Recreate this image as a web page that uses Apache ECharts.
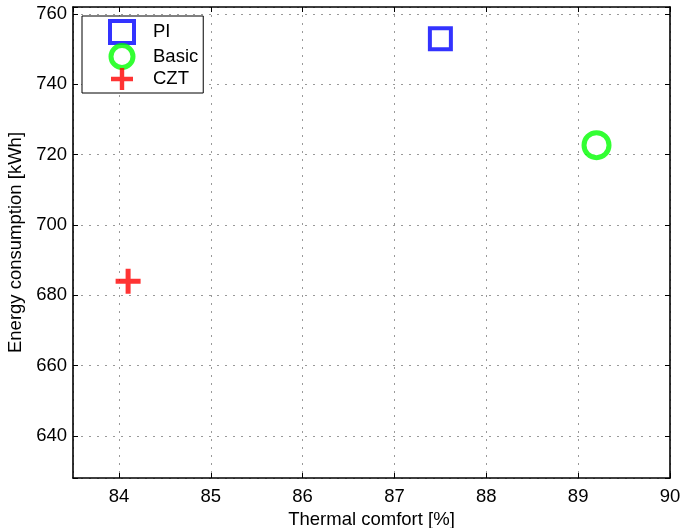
<!DOCTYPE html>
<html>
<head>
<meta charset="utf-8">
<script src="https://cdn.jsdelivr.net/npm/echarts@6/dist/echarts.min.js"></script>
<style>
  html, body { margin: 0; padding: 0; background: #fff; }
  #chart { width: 683px; height: 528px; }
</style>
</head>
<body>
<div id="chart"></div>
<script>
// Controller comparison: thermal comfort vs. energy consumption
const seriesNames = ['PI', 'Basic', 'CZT'];
const comfort = [87.5, 89.2, 84.1];       // Thermal comfort [%]
const energy = [753, 722.7, 684];         // Energy consumption [kWh]
const xTicks = [84, 85, 86, 87, 88, 89, 90];
const yTicks = [640, 660, 680, 700, 720, 740, 760];

const FONT = 'Liberation Sans, Arial, Helvetica, sans-serif';
const FS = 18.5;
const plusPath = 'path://M2,0 H3 V2 H5 V3 H3 V5 H2 V3 H0 V2 H2 Z';

const styles = [
  { symbol: 'rect', symbolSize: 21, itemStyle: { color: '#fff', borderColor: '#0000ff', borderWidth: 4 } },
  { symbol: 'circle', symbolSize: 25, itemStyle: { color: '#fff', borderColor: '#00ff00', borderWidth: 5 } },
  { symbol: plusPath, symbolSize: 25, itemStyle: { color: '#ff0000', borderWidth: 0 } }
];

const gridLine = { show: true, lineStyle: { color: '#999', width: 1, type: [2, 6] } };
const axisLine = { show: true, onZero: false, lineStyle: { color: '#000', width: 1.6 } };
const tickIn = { show: true, inside: true, length: 5, lineStyle: { color: '#000', width: 1 } };
const label = { color: '#000', fontSize: FS, fontFamily: FONT };

// x: fixed range with unit steps; y: fixed range with steps of 20
const xRange = { type: 'value', min: 83.5, max: 90, minInterval: 1, maxInterval: 1, splitNumber: 6 };
const yRange = { type: 'value', min: 628, max: 762, minInterval: 20, maxInterval: 20, splitNumber: 7 };

const chart = echarts.init(document.getElementById('chart'), null, { renderer: 'canvas' });
chart.setOption({
  animation: false,
  backgroundColor: '#fff',
  grid: { left: 73, right: 13, top: 7, bottom: 50, containLabel: false, outerBoundsMode: 'none' },
  xAxis: [
    {
      ...xRange, position: 'bottom',
      axisLine, axisTick: tickIn,
      axisLabel: { ...label, margin: 9, showMinLabel: false, showMaxLabel: true,
                   formatter: v => xTicks.includes(v) ? String(v) : '' },
      splitLine: gridLine,
      name: 'Thermal comfort [%]', nameLocation: 'middle', nameGap: 30,
      nameTextStyle: { color: '#000', fontSize: FS, fontFamily: FONT }
    },
    {
      ...xRange, position: 'top',
      axisLine, axisTick: tickIn, axisLabel: { show: false }, splitLine: { show: false }
    }
  ],
  yAxis: [
    {
      ...yRange, position: 'left',
      axisLine, axisTick: tickIn,
      axisLabel: { ...label, margin: 6, formatter: v => yTicks.includes(v) ? String(v) : '' },
      splitLine: gridLine,
      name: 'Energy consumption [kWh]', nameLocation: 'middle', nameGap: 46,
      nameTextStyle: { color: '#000', fontSize: FS, fontFamily: FONT }
    },
    {
      ...yRange, position: 'right',
      axisLine, axisTick: tickIn, axisLabel: { show: false }, splitLine: { show: false }
    }
  ],
  legend: {
    orient: 'vertical', left: 82, top: 16,
    backgroundColor: '#fff', borderColor: '#000', borderWidth: 1,
    padding: [3, 5, 3, 26],
    itemWidth: 24, itemHeight: 22, itemGap: -2,
    textStyle: { color: '#000', fontSize: FS, fontFamily: FONT, padding: [0, 0, 0, 14] },
    data: seriesNames.map((name, i) => ({ name, itemStyle: { ...styles[i].itemStyle } }))
  },
  series: seriesNames.map((name, i) => ({
    type: 'scatter', name,
    data: [[comfort[i], energy[i]]],
    ...styles[i]
  }))
});
</script>
</body>
</html>
